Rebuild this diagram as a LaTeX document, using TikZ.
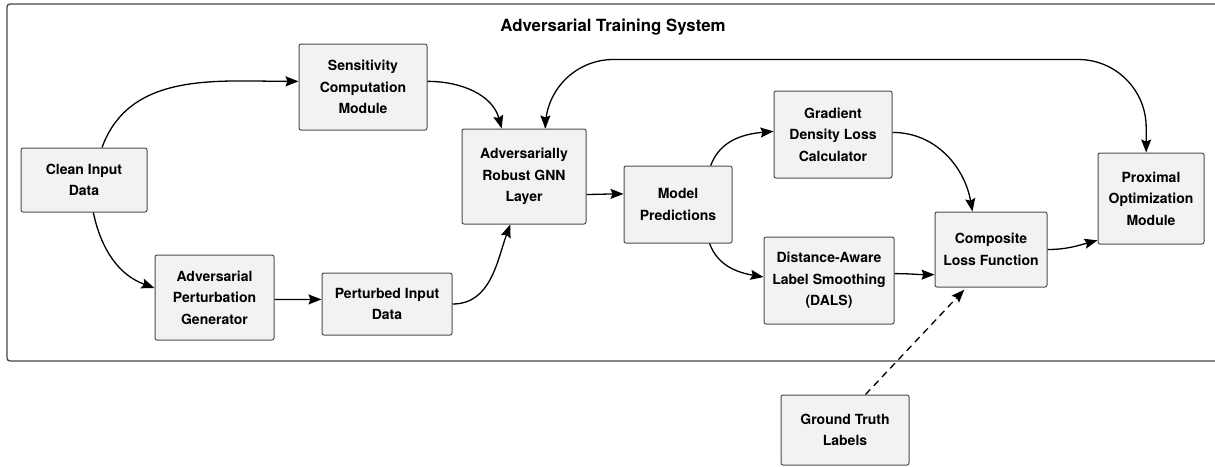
\documentclass[tikz,border=0pt]{standalone}
\usepackage{fontspec}
\setmainfont{TeX Gyre Heros}
\usetikzlibrary{arrows.meta}
\definecolor{boxfill}{HTML}{F2F2F2}
\definecolor{boxline}{HTML}{4D4D4D}
\definecolor{framegray}{HTML}{454545}
\begin{document}
\begin{tikzpicture}[x=1pt,y=1pt,line width=1.3pt,
     >={Stealth[length=13pt,width=10pt,inset=2pt]},
     main node/.style={rectangle,rounded corners=2pt,draw=boxline,fill=boxfill,
       line width=1pt,inner sep=0pt,align=center,
       font=\bfseries\fontsize{14}{21.5}\selectfont}]

      \useasboundingbox (0,0) rectangle (1215,-466);
      \draw[framegray,line width=1.3pt,rounded corners=3pt] (7,-4) rectangle (1230,-361);
      \node[font=\bfseries\fontsize{16.8}{20}\selectfont] (title) at (613,-27) {Adversarial Training System};

      \node[main node,minimum width=126pt,minimum height=64pt] (clean) at (84,-180) {Clean Input\\Data};
      \node[main node,minimum width=128pt,minimum height=86pt] (sens) at (363,-87) {Sensitivity\\Computation\\Module};
      \node[main node,minimum width=119pt,minimum height=85pt] (advgen) at (214.5,-297.5) {Adversarial\\Perturbation\\Generator};
      \node[main node,minimum width=130pt,minimum height=62pt] (pert) at (387,-304) {Perturbed Input\\Data};
      \node[main node,minimum width=124pt,minimum height=95pt] (gnn) at (524,-176.5) {Adversarially\\Robust GNN\\Layer};
      \node[main node,minimum width=108pt,minimum height=77pt] (model) at (678,-204.5) {Model\\Predictions};
      \node[main node,minimum width=118pt,minimum height=87pt] (grad) at (833,-134.5) {Gradient\\Density Loss\\Calculator};
      \node[main node,minimum width=130pt,minimum height=87pt] (dals) at (829,-280.5) {Distance-Aware\\Label Smoothing\\(DALS)};
      \node[main node,minimum width=112pt,minimum height=75pt] (comp) at (991,-249.5) {Composite\\Loss Function};
      \node[main node,minimum width=106pt,minimum height=91pt] (prox) at (1151,-198.5) {Proximal\\Optimization\\Module};
      \node[main node,minimum width=128pt,minimum height=70pt] (gt) at (845,-430) {Ground Truth\\Labels};

      \foreach \s/\t/\o/\i in {clean.61/sens.175/70/180, clean.286/advgen.171/-78/160,
          advgen.358/pert.176/0/180, pert.0/gnn.254/0/-110, sens.5/gnn.115/0/105,
          gnn.344/model.169/0/180, model.50/grad.177/70/185, model.309/dals.177/-70/170,
          grad.2/comp.116/0/100, dals.6/comp.204/0/180, comp.0/prox.218/0/195} {
       \draw[->] (\s) to[out=\o,in=\i] (\t);}

      \draw[<->,rounded corners=68pt] (gnn.66) -- ++(0,69) -| (prox.96);
      \draw[->,dash pattern=on 7pt off 5pt,shorten >=3pt] (gt.60) -- (comp.237);
    \end{tikzpicture}
\end{document}
